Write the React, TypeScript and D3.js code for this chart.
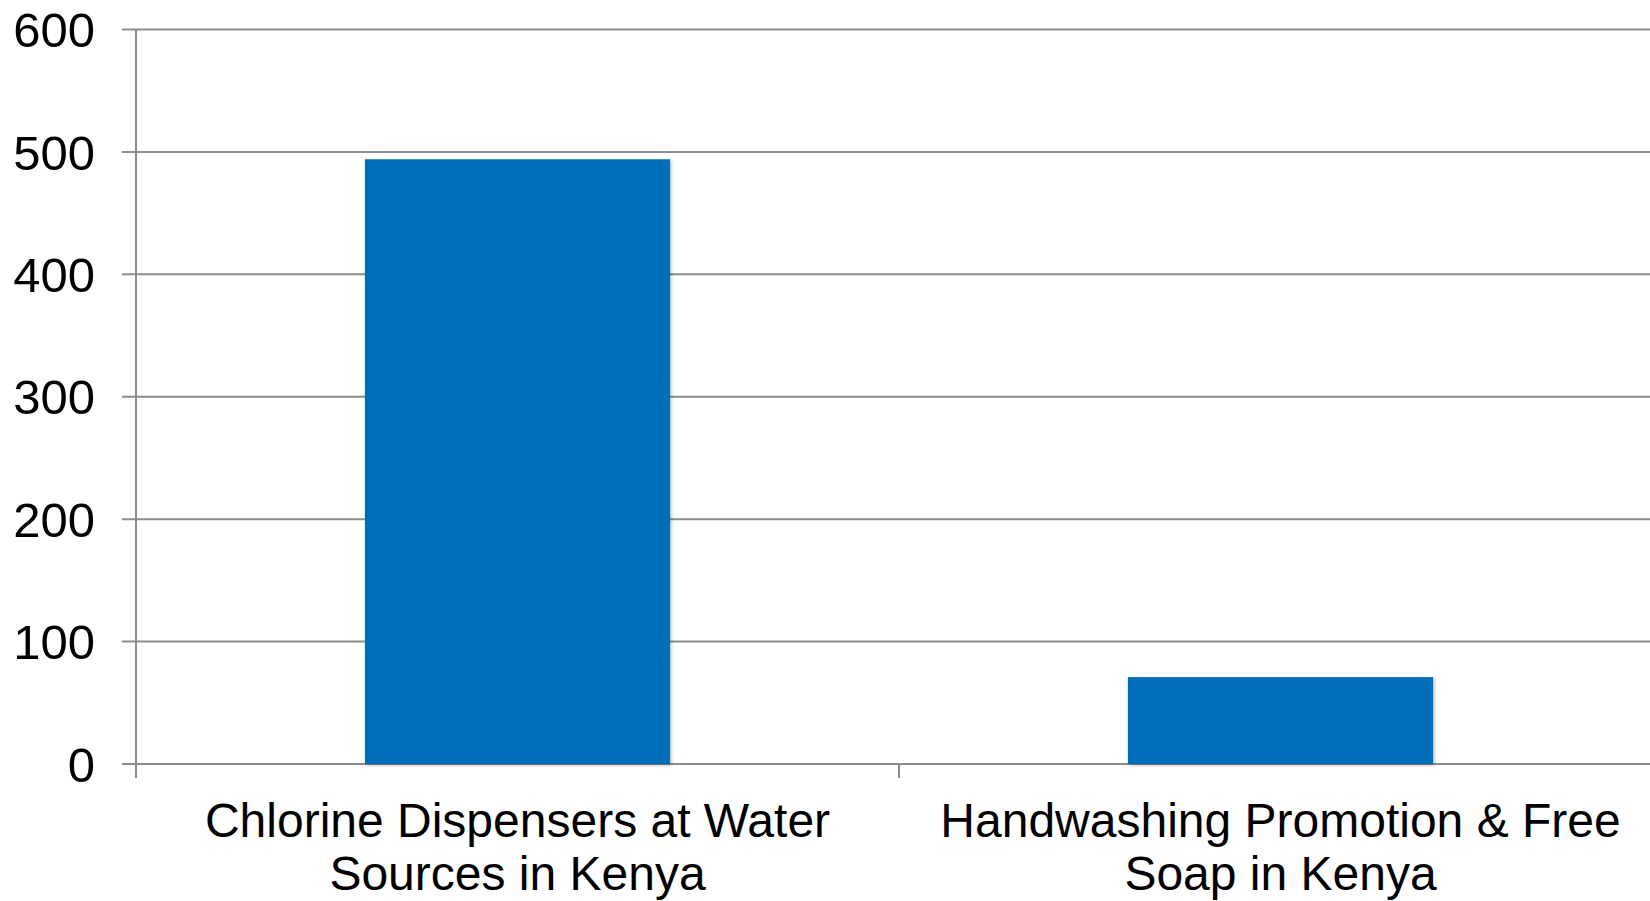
import { useMemo } from "react";
import { scaleBand, scaleLinear } from "d3";

const categories = [
  ["Chlorine Dispensers at Water", "Sources in Kenya"],
  ["Handwashing Promotion & Free", "Soap in Kenya"],
];
const values = [494, 71];
const yTicks = [0, 100, 200, 300, 400, 500, 600];

const WIDTH = 1650;
const HEIGHT = 901;
const FONT = "'Liberation Sans', Arial, Helvetica, sans-serif";

export default function App() {
  const margin = { left: 136, top: 29.5, right: -12, bottom: 137 };
  const plotW = WIDTH - margin.left - margin.right;
  const plotH = HEIGHT - margin.top - margin.bottom;

  const x = useMemo(
    () =>
      scaleBand<number>()
        .domain(categories.map((_, i) => i))
        .range([0, plotW])
        .padding(0),
    [plotW],
  );
  const y = useMemo(
    () => scaleLinear().domain([0, 600]).range([plotH, 0]),
    [plotH],
  );

  const bw = x.bandwidth();
  const barW = bw * 0.4;
  const gridColor = "#8c8c8c";

  return (
    <svg
      width={WIDTH}
      height={HEIGHT}
      style={{ position: "absolute", top: 0, left: 0, background: "#fff" }}
    >
      <defs>
        <filter id="barShadow" x="-5%" y="-5%" width="110%" height="110%">
          <feDropShadow dx="1.5" dy="1.5" stdDeviation="1.5" floodColor="#000" floodOpacity="0.25" />
        </filter>
      </defs>
      <g transform={`translate(${margin.left},${margin.top})`}>
        {/* --- Gridlines + y ticks --- */}
        {yTicks.map((t) => (
          <g key={t}>
            <line
              x1={-14}
              x2={plotW}
              y1={y(t)}
              y2={y(t)}
              stroke={gridColor}
              strokeWidth={2}
            />
            <text
              x={-41}
              y={y(t)}
              dy="0.36em"
              textAnchor="end"
              fontFamily={FONT}
              fontSize={49}
              fill="#000"
            >
              {t}
            </text>
          </g>
        ))}

        {/* --- Y axis line --- */}
        <line x1={0} x2={0} y1={0} y2={plotH + 14} stroke={gridColor} strokeWidth={2} />

        {/* --- Category boundary ticks --- */}
        {categories.map((_, i) =>
          i === 0 ? null : (
            <line
              key={i}
              x1={x(i)!}
              x2={x(i)!}
              y1={plotH}
              y2={plotH + 14}
              stroke={gridColor}
              strokeWidth={2}
            />
          ),
        )}

        {/* --- Bars --- */}
        {values.map((v, i) => (
          <rect
            key={i}
            x={x(i)! + (bw - barW) / 2}
            y={y(v)}
            width={barW}
            height={plotH - y(v)}
            fill="#006eb8"
            filter="url(#barShadow)"
          />
        ))}

        {/* --- Category labels --- */}
        {categories.map((lines, i) => (
          <text
            key={i}
            x={x(i)! + bw / 2}
            y={plotH + 73}
            textAnchor="middle"
            fontFamily={FONT}
            fontSize={48}
            fill="#000"
          >
            {lines.map((l, j) => (
              <tspan key={j} x={x(i)! + bw / 2} dy={j === 0 ? 0 : 53}>
                {l}
              </tspan>
            ))}
          </text>
        ))}
      </g>
    </svg>
  );
}
